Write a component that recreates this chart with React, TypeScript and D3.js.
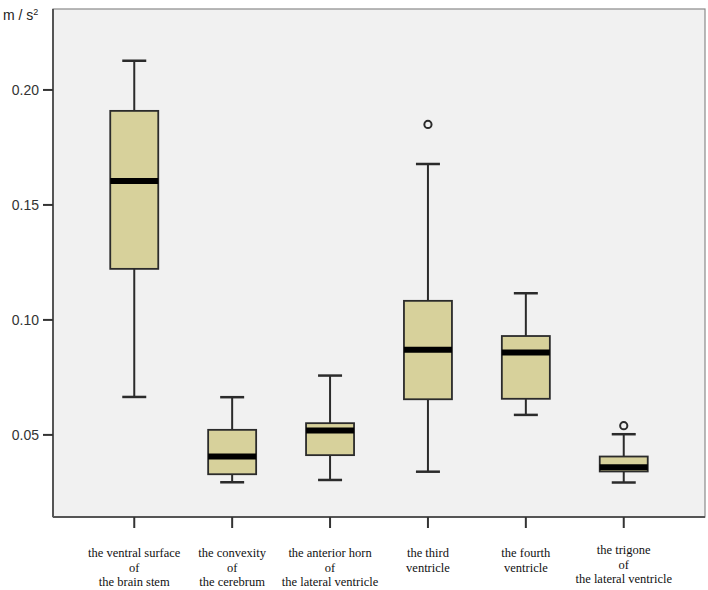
import React from "react";
import * as d3 from "d3";

const categories: string[][] = [
  ["the ventral surface", "of", "the brain stem"],
  ["the convexity", "of", "the cerebrum"],
  ["the anterior horn", "of", "the lateral ventricle"],
  ["the third", "ventricle"],
  ["the fourth", "ventricle"],
  ["the trigone", "of", "the lateral ventricle"],
];
const whiskerLow = [0.0665, 0.0294, 0.0304, 0.034, 0.0587, 0.0293];
const q1 = [0.1222, 0.0329, 0.0412, 0.0655, 0.0657, 0.0341];
const median = [0.1604, 0.0406, 0.0519, 0.087, 0.0858, 0.0359];
const q3 = [0.1909, 0.0522, 0.0551, 0.1083, 0.093, 0.0406];
const whiskerHigh = [0.2127, 0.0664, 0.0758, 0.1678, 0.1116, 0.0503];
const outlierCat = [3, 5];
const outlierVal = [0.185, 0.054];
const yTicks = [0.05, 0.1, 0.15, 0.2];
const yUnit = "m / s";

export default function App() {
  const W = 708, H = 590;
  const left = 53, right = 705, top = 9, bottom = 517;
  const y = d3.scaleLinear().domain([0.0143, 0.2352]).range([bottom, top]);
  const x = d3
    .scalePoint<number>()
    .domain(categories.map((_, i) => i))
    .range([left, right])
    .padding(0.83);
  const boxHalf = 24;
  const capHalf = 12;
  const fill = "#d7d19b";
  const stroke = "#2b2b2b";

  return (
    <svg
      width={W}
      height={H}
      style={{ position: "absolute", left: 0, top: 0 }}
      xmlns="http://www.w3.org/2000/svg"
    >
      <rect x={0} y={0} width={W} height={H} fill="#ffffff" />
      <rect
        x={left}
        y={top}
        width={right - left}
        height={bottom - top}
        fill="#f1f1f1"
        stroke="#8a8a8a"
        strokeWidth={1.2}
      />
      <line x1={left} x2={left} y1={top} y2={bottom} stroke="#555" strokeWidth={2} />
      <line x1={left} x2={right} y1={bottom} y2={bottom} stroke="#555" strokeWidth={2} />

      {yTicks.map((t) => (
        <g key={t}>
          <line x1={left - 10} x2={left} y1={y(t)} y2={y(t)} stroke="#333" strokeWidth={2} />
          <text
            x={left - 14}
            y={y(t)}
            dy="0.35em"
            textAnchor="end"
            fontFamily="Liberation Sans, Arial, sans-serif"
            fontSize={14}
            fill="#333"
          >
            {d3.format(".2f")(t)}
          </text>
        </g>
      ))}
      <text
        x={3}
        y={20}
        fontFamily="Liberation Sans, Arial, sans-serif"
        fontSize={14}
        fill="#222"
      >
        {yUnit}
        <tspan dy={-5} fontSize={9}>2</tspan>
      </text>

      {categories.map((lines, i) => {
        const cx = x(i) as number;
        return (
          <g key={i}>
            <line x1={cx} x2={cx} y1={bottom} y2={bottom + 11} stroke="#333" strokeWidth={2} />
            {lines.map((ln, k) => (
              <text
                key={k}
                x={cx}
                y={(lines.length === 3 && i === 5 ? 554 : 557) + k * 14.5}
                textAnchor="middle"
                fontFamily="Liberation Serif, Times New Roman, serif"
                fontSize={12.5}
                fill="#111"
              >
                {ln}
              </text>
            ))}
          </g>
        );
      })}

      {categories.map((_, i) => {
        const cx = x(i) as number;
        return (
          <g key={"b" + i}>
            <line x1={cx} x2={cx} y1={y(whiskerHigh[i])} y2={y(q3[i])} stroke={stroke} strokeWidth={2} />
            <line x1={cx} x2={cx} y1={y(q1[i])} y2={y(whiskerLow[i])} stroke={stroke} strokeWidth={2} />
            <line
              x1={cx - capHalf}
              x2={cx + capHalf}
              y1={y(whiskerHigh[i])}
              y2={y(whiskerHigh[i])}
              stroke={stroke}
              strokeWidth={2.5}
            />
            <line
              x1={cx - capHalf}
              x2={cx + capHalf}
              y1={y(whiskerLow[i])}
              y2={y(whiskerLow[i])}
              stroke={stroke}
              strokeWidth={2.5}
            />
            <rect
              x={cx - boxHalf}
              y={y(q3[i])}
              width={boxHalf * 2}
              height={y(q1[i]) - y(q3[i])}
              fill={fill}
              stroke={stroke}
              strokeWidth={1.8}
            />
            <line
              x1={cx - boxHalf}
              x2={cx + boxHalf}
              y1={y(median[i])}
              y2={y(median[i])}
              stroke="#000"
              strokeWidth={6}
            />
          </g>
        );
      })}

      {outlierCat.map((c, k) => (
        <circle
          key={"o" + k}
          cx={x(c) as number}
          cy={y(outlierVal[k])}
          r={3.6}
          fill="none"
          stroke={stroke}
          strokeWidth={2}
        />
      ))}
    </svg>
  );
}
